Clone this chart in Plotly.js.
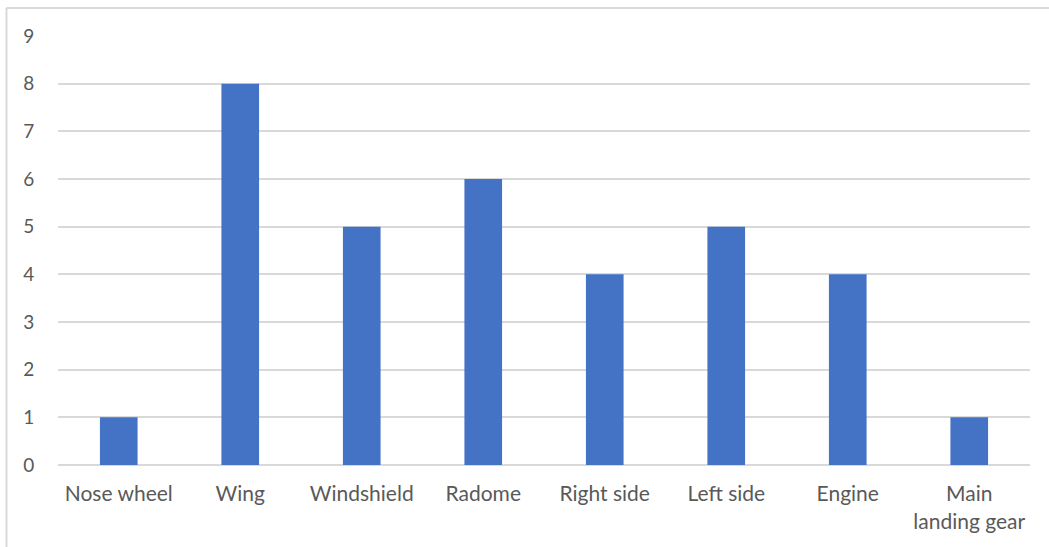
<!DOCTYPE html>
<html><head><meta charset="utf-8">
<script src="https://cdn.plot.ly/plotly-3.0.1.min.js"></script>
<style>html,body{margin:0;padding:0;background:#fff;}#chart{width:1049px;height:547px;}</style>
</head><body><div id="chart"></div>
<script>
const categories = ["Nose wheel", "Wing", "Windshield", "Radome", "Right side", "Left side", "Engine", "Main<br>landing gear"];
const values = [1, 8, 5, 6, 4, 5, 4, 1];
const yTicks = [0,1,2,3,4,5,6,7,8,9];

Plotly.newPlot('chart', [{
  type: 'bar', x: categories, y: values,
  marker: {color: '#4472C4'}, hoverinfo: 'x+y'
}], {
  width: 1049, height: 547,
  margin: {l: 58, r: 19, t: 36, b: 82},
  paper_bgcolor: '#fff', plot_bgcolor: '#fff',
  bargap: 0.69,
  font: {family: 'Lato, "Open Sans", sans-serif', size: 21, color: '#595959'},
  xaxis: {showgrid: false, showline: false, zeroline: false, ticks: 'outside', ticklen: 10, tickcolor: 'rgba(0,0,0,0)', tickfont: {size: 21, color: '#595959'}},
  yaxis: {range: [0, 9], tickvals: yTicks, showgrid: true, gridcolor: '#d9d9d9', gridwidth: 1.5, zeroline: true, zerolinecolor: '#d9d9d9', zerolinewidth: 1.5, showline: false, ticks: 'outside', ticklen: 19, tickcolor: 'rgba(0,0,0,0)', tickfont: {size: 19, color: '#595959'}},
  shapes: [
    {type: 'line', xref: 'paper', yref: 'paper', x0: -0.053, x1: 1.03, y0: 1.065, y1: 1.065, line: {color: '#d9d9d9', width: 2}},
    {type: 'line', xref: 'paper', yref: 'paper', x0: -0.053, x1: -0.053, y0: 1.065, y1: -0.2, line: {color: '#d9d9d9', width: 2}}
  ],
  showlegend: false
}, {displayModeBar: false});
</script></body></html>
